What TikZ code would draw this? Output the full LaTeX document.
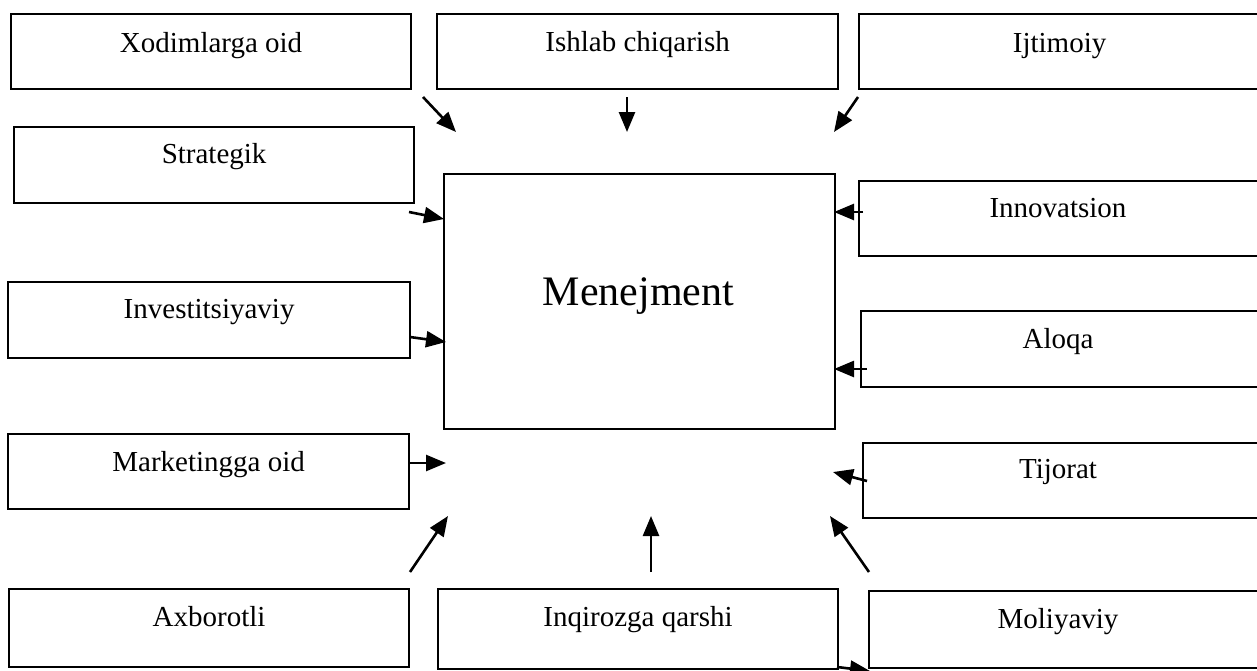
\documentclass[tikz,border=0pt]{standalone}
\usepackage{fontspec}
\setmainfont{Liberation Serif}
\usetikzlibrary{arrows.meta,calc}
\tikzset{
  box/.style={draw=black, line width=2.2pt, rectangle, anchor=north west, inner sep=0pt, minimum width=400pt, minimum height=76pt},
  lbl/.style={anchor=base, inner sep=0pt, font=\fontsize{29}{34}\selectfont},
  conn/.style={line width=2.6pt, -{Triangle[length=20pt,width=16pt]}}
}
\begin{document}
\begin{tikzpicture}[x=1pt,y=-1pt]
\useasboundingbox[fill=white] (0,0) rectangle (1257,670);
% boxes
\node[box, minimum height=75pt] (xod) at (10,13) {};
\node[box, minimum width=401pt, minimum height=75pt] (ish) at (436,13) {};
\node[box, minimum width=401pt, minimum height=75pt] (ijt) at (858,13) {};
\node[box, minimum height=76pt] (str) at (13,126) {};
\node[box, minimum width=401pt, minimum height=75pt] (inn) at (858,180) {};
\node[box, minimum width=402pt, minimum height=76pt] (inv) at (7,281) {};
\node[box, minimum width=399pt, minimum height=76pt] (alo) at (860,310) {};
\node[box, minimum width=401pt, minimum height=75pt] (mar) at (7,433) {};
\node[box, minimum width=397pt, minimum height=75pt] (tij) at (862,442) {};
\node[box, minimum width=400pt, minimum height=78pt] (axb) at (8,588) {};
\node[box, minimum width=400pt, minimum height=80pt] (inq) at (437,588) {};
\node[box, minimum width=391pt, minimum height=77pt] (mol) at (868,590) {};
\node[box, minimum width=391pt, minimum height=255pt] (men) at (443,173) {};
% labels
\node[lbl] (txod) at ($(xod.north)+(0,39)$) {Xodimlarga oid};
\node[lbl] (tish) at ($(ish.north)+(0,38)$) {Ishlab chiqarish};
\node[lbl] (tijt) at ($(ijt.north)+(0,39)$) {Ijtimoiy};
\node[lbl] (tstr) at ($(str.north)+(0,37)$) {Strategik};
\node[lbl] (tinn) at (1058,217) {Innovatsion};
\node[lbl] (tinv) at ($(inv.north)+(0,37)$) {Investitsiyaviy};
\node[lbl] (talo) at (1058,348) {Aloqa};
\node[lbl] (tmar) at ($(mar.north)+(0,38)$) {Marketingga oid};
\node[lbl] (ttij) at (1058,478) {Tijorat};
\node[lbl] (taxb) at ($(axb.north)+(0,38)$) {Axborotli};
\node[lbl] (tinq) at ($(inq.north)+(0,38)$) {Inqirozga qarshi};
\node[lbl] (tmol) at (1058,628) {Moliyaviy};
\node[anchor=base, inner sep=0pt, font=\fontsize{42}{48}\selectfont] (tmen) at (638.5,305) {Menejment};
% arrow end points
\coordinate (a1s) at (423,97);  \coordinate (a1e) at (456,132);
\coordinate (a2s) at (627,97);  \coordinate (a2e) at (627,132);
\coordinate (a3s) at (858,97);  \coordinate (a3e) at (834,132);
\coordinate (a4s) at (409,212); \coordinate (a4e) at (444,219);
\coordinate (a5s) at (863,212); \coordinate (a5e) at (834,212);
\coordinate (a6s) at (410,337); \coordinate (a6e) at (446,342);
\coordinate (a7s) at (867,369); \coordinate (a7e) at (834,369);
\coordinate (a8s) at (408,463); \coordinate (a8e) at (446,463);
\coordinate (a9s) at (867,481); \coordinate (a9e) at (833,472);
\coordinate (a10s) at (410,572); \coordinate (a10e) at (448,516);
\coordinate (a11s) at (651,572); \coordinate (a11e) at (651,516);
\coordinate (a12s) at (869,572); \coordinate (a12e) at (830,516);
\coordinate (a13s) at (837,667); \coordinate (a13e) at (870,671);
% arrows
\draw[conn] (a1s) -- (a1e);
\draw[conn] (a2s) -- (a2e);
\draw[conn] (a3s) -- (a3e);
\draw[conn] (a4s) -- (a4e);
\draw[conn] (a5s) -- (a5e);
\draw[conn] (a6s) -- (a6e);
\draw[conn] (a7s) -- (a7e);
\draw[conn] (a8s) -- (a8e);
\draw[conn] (a9s) -- (a9e);
\draw[conn] (a10s) -- (a10e);
\draw[conn] (a11s) -- (a11e);
\draw[conn] (a12s) -- (a12e);
\draw[conn] (a13s) -- (a13e);
\end{tikzpicture}
\end{document}
